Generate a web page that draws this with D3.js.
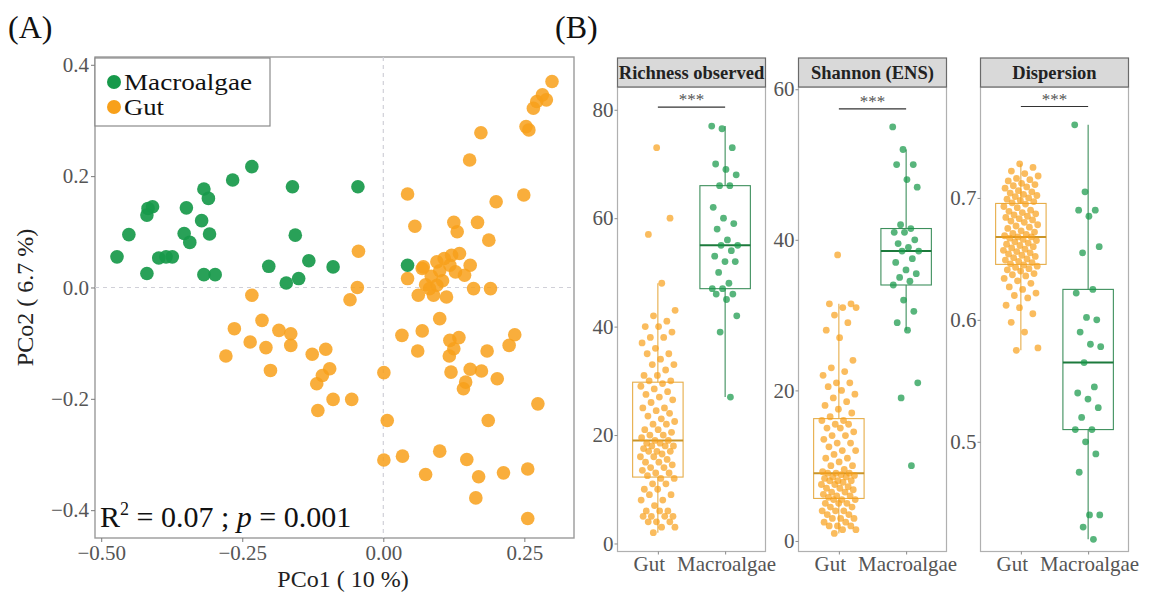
<!DOCTYPE html>
<html><head><meta charset="utf-8">
<script src="https://cdn.jsdelivr.net/npm/d3@7"></script>
<style>
html,body{margin:0;padding:0;background:#fff;}
text{font-family:"Liberation Serif","Times New Roman",serif;}
</style></head>
<body>
<svg id="chart" width="1157" height="597"></svg>
<script>
// ---------------- DATA ----------------
const groups = ["Macroalgae", "Gut"];
const boxCategories = ["Gut", "Macroalgae"];
const facetTitles = ["Richness observed", "Shannon (ENS)", "Dispersion"];

const pcoaXTicks = [-0.50, -0.25, 0.00, 0.25];
const pcoaYTicks = [-0.4, -0.2, 0.0, 0.2, 0.4];

const macroPC1 = [-0.472,-0.451,-0.419,-0.417,-0.409,-0.419,-0.398,-0.385,-0.374,-0.349,-0.353,-0.343,-0.322,-0.308,-0.318,-0.310,-0.318,-0.298,-0.267,-0.233,-0.203,-0.172,-0.161,-0.156,-0.150,-0.132,-0.089,-0.045,0.043];
const macroPC2 = [0.055,0.095,0.025,0.142,0.145,0.130,0.053,0.055,0.055,0.143,0.097,0.081,0.120,0.096,0.177,0.160,0.023,0.023,0.193,0.217,0.038,0.008,0.181,0.094,0.016,0.048,0.037,0.181,0.040];

const gutPC1 = [0.299,0.282,0.272,0.266,0.289,0.253,0.258,0.173,0.153,0.043,0.249,0.200,0.056,0.125,0.131,0.167,0.187,-0.044,0.069,0.095,0.108,0.135,0.118,0.154,0.043,0.128,0.144,-0.046,0.160,0.190,0.082,0.095,-0.233,-0.059,
  0.062,0.089,0.112,-0.264,-0.215,-0.185,-0.164,-0.236,-0.208,-0.164,-0.279,-0.200,-0.126,-0.102,-0.095,-0.108,-0.118,-0.116,-0.089,-0.056,0.001,0.007,0.001,0.034,0.075,0.100,0.148,0.169,0.164,0.213,0.256,0.256,0.274,0.186,
  0.033,0.069,0.100,0.061,0.118,0.134,0.125,0.117,0.120,0.154,0.174,0.146,0.142,0.202,0.184,0.223,0.233,0.100,0.085,0.075,0.105,0.121,0.071];
const gutPC2 = [0.370,0.346,0.334,0.322,0.337,0.289,0.283,0.278,0.229,0.168,0.166,0.154,0.110,0.117,0.100,0.117,0.085,0.065,0.034,0.046,0.052,0.061,0.040,0.040,0.016,0.028,0.022,0.000,-0.002,-0.002,-0.002,0.004,-0.014,-0.022,
  -0.014,-0.014,-0.017,-0.074,-0.059,-0.077,-0.083,-0.098,-0.108,-0.104,-0.123,-0.149,-0.120,-0.111,-0.146,-0.158,-0.173,-0.221,-0.201,-0.201,-0.153,-0.239,-0.310,-0.303,-0.336,-0.294,-0.309,-0.340,-0.378,-0.333,-0.326,-0.415,-0.209,-0.239,
  -0.086,-0.078,-0.056,-0.114,-0.095,-0.090,-0.110,-0.123,-0.152,-0.147,-0.150,-0.170,-0.182,-0.164,-0.114,-0.104,-0.085,0.030,0.020,0.005,0.012,0.058,0.037];

const richnessGut = [2,3,3,4,4,4,5,5,5,5,6,6,6,7,8,8,9,9,10,10,11,11,12,12,
  12.5,13,13,13.5,14,14,14.5,15,15,15.5,16,16,16.5,17,17,17,17.5,18,18,18,18.5,18.5,19,19,
  19.5,20,20,20.5,21,21,22,22,22.5,23,23.5,24,24.5,25,25,26,26.5,27,27.5,28,28.5,29,29.5,
  30,30,31,31,32,33,33,34,35,35,36,37,38,38,39,40,40,41,42,43,48,57,60,73];
const richnessMacro = [27,39,42,45,46,46,47,47,48,50,52,52,53,54,55,55,56,58,59,60,62,66,66,68,69,70,73,76.5,77];

const shannonGut = [1,1.5,1.5,2,2,2,2.5,2.5,3,3,3,3.5,3.5,4,4,4,4.5,4.5,5,5,5,5.5,5.5,5.5,
  5.8,6,6,6.2,6.5,6.5,6.8,7,7,7.2,7.5,7.5,7.8,8,8,8,8.3,8.5,8.5,8.7,8.8,9,9,9,
  9.2,9.5,10,10,10.5,11,11,11.5,12,12,12.5,13,13,13.5,14,14,14.5,15,15,15.5,15.5,16,16,
  16.5,17,17.5,18,18.5,19,19.5,20,20.5,21,21,22,22.5,23,24,27,28,29,30,31,31,31.5,31.5,38];
const shannonMacro = [10,19,21,28,29,30.5,32,34,34.5,35,35.5,36,37,37.5,38.5,38.5,39,39.5,40,41,41,41.5,42,47,48,50,50,52,55];

const dispersionGut = [0.575,0.577,0.59,0.598,0.605,0.61,0.612,0.618,0.62,0.622,0.625,0.627,0.63,0.632,0.634,0.636,0.637,0.638,0.64,0.641,0.642,0.643,0.644,0.645,
  0.646,0.647,0.648,0.649,0.65,0.651,0.652,0.653,0.654,0.655,0.656,0.657,0.658,0.659,0.66,0.661,0.662,0.663,0.664,0.665,0.666,0.667,0.668,0.668,
  0.669,0.67,0.671,0.672,0.673,0.675,0.676,0.677,0.678,0.68,0.681,0.682,0.683,0.684,0.685,0.686,0.687,0.688,0.689,0.69,0.692,0.693,0.695,
  0.696,0.697,0.698,0.699,0.7,0.701,0.702,0.703,0.704,0.705,0.706,0.708,0.709,0.71,0.711,0.712,0.714,0.715,0.716,0.718,0.72,0.722,0.725,0.728];
const dispersionMacro = [0.42,0.43,0.44,0.44,0.475,0.49,0.5,0.51,0.51,0.52,0.528,0.535,0.54,0.545,0.565,0.578,0.58,0.59,0.6,0.602,0.622,0.625,0.655,0.66,0.685,0.69,0.69,0.705,0.76];

const richnessTicks = [0, 20, 40, 60, 80];
const shannonTicks = [0, 20, 40, 60];
const dispersionTicks = [0.5, 0.6, 0.7];
const richnessDomain = [-1.48, 84.2];
const shannonDomain = [-1.4, 60.3];
const dispersionDomain = [0.41, 0.791];
const sigLabel = "***";
const sigY = [80.5, 57.4, 0.775];

// ---------------- STYLE ----------------
const GREEN = "#17994a", ORANGE = "#f8a01a";
const svg = d3.select("#chart");
const serif = '"Liberation Serif","Times New Roman",serif';

// ---------------- PANEL A ----------------
const A = {l: 95, r: 574, t: 57, b: 538};
const x = d3.scaleLinear().domain([-0.511, 0.338]).range([A.l, A.r]);
const y = d3.scaleLinear().domain([-0.450, 0.414]).range([A.b, A.t]);

svg.append("text").attr("x", 8).attr("y", 38).attr("font-size", 32).attr("fill", "#111").text("(A)");

svg.append("rect").attr("x", A.l).attr("y", A.t).attr("width", A.r - A.l).attr("height", A.b - A.t)
  .attr("fill", "#fff").attr("stroke", "#9a9a9a").attr("stroke-width", 1.4);

svg.append("line").attr("x1", x(0)).attr("x2", x(0)).attr("y1", A.t).attr("y2", A.b)
  .attr("stroke", "#d0d0d8").attr("stroke-dasharray", "4,4").attr("stroke-width", 1.2);
svg.append("line").attr("y1", y(0)).attr("y2", y(0)).attr("x1", A.l).attr("x2", A.r)
  .attr("stroke", "#d0d0d8").attr("stroke-dasharray", "4,4").attr("stroke-width", 1.2);

const fmtMinus = s => s.replace("-", "\u2212");
const xAxis = svg.append("g").attr("transform", `translate(0,${A.b})`)
  .call(d3.axisBottom(x).tickValues(pcoaXTicks).tickSize(4).tickPadding(3).tickFormat(d => fmtMinus(d3.format(".2f")(d))));
const yAxis = svg.append("g").attr("transform", `translate(${A.l},0)`)
  .call(d3.axisLeft(y).tickValues(pcoaYTicks).tickSize(4).tickPadding(2).tickFormat(d => fmtMinus(d3.format(".1f")(d))));
[xAxis, yAxis].forEach(g => {
  g.select(".domain").remove();
  g.selectAll(".tick line").attr("stroke", "#7a7a7a");
  g.selectAll(".tick text").attr("font-family", serif).attr("font-size", 21).attr("fill", "#555");
});

svg.append("text").attr("x", 343).attr("y", 587).attr("text-anchor", "middle")
  .attr("font-size", 24).attr("fill", "#222").text("PCo1 ( 10 %)");
svg.append("text").attr("transform", `translate(33,${(A.t + A.b) / 2}) rotate(-90)`).attr("text-anchor", "middle")
  .attr("font-size", 24).attr("fill", "#222").text("PCo2 ( 6.7 %)");

const pts = svg.append("g");
pts.selectAll("circle.g").data(d3.range(gutPC1.length)).join("circle")
  .attr("cx", i => x(gutPC1[i])).attr("cy", i => y(gutPC2[i])).attr("r", 6.8)
  .attr("fill", ORANGE).attr("fill-opacity", 0.85);
pts.selectAll("circle.m").data(d3.range(macroPC1.length)).join("circle")
  .attr("cx", i => x(macroPC1[i])).attr("cy", i => y(macroPC2[i])).attr("r", 6.8)
  .attr("fill", GREEN).attr("fill-opacity", 0.92);

// legend
const leg = svg.append("g");
leg.append("rect").attr("x", A.l).attr("y", A.t + 1).attr("width", 175).attr("height", 68)
  .attr("fill", "#fff").attr("stroke", "#8a8a8a").attr("stroke-width", 1.2);
groups.forEach((g, i) => {
  leg.append("circle").attr("cx", 114).attr("cy", 82 + i * 25).attr("r", 7).attr("fill", g === "Gut" ? ORANGE : GREEN);
  leg.append("text").attr("x", 124).attr("y", 90 + i * 25).attr("font-size", 23).attr("fill", "#111")
    .attr("textLength", g === "Gut" ? 40 : 128).attr("lengthAdjust", "spacingAndGlyphs").text(g);
});

// R2 annotation
const r2 = svg.append("text").attr("x", 100).attr("y", 527).attr("font-size", 30).attr("fill", "#111");
r2.append("tspan").text("R");
r2.append("tspan").attr("font-size", 18).attr("dy", -12).text("2");
r2.append("tspan").attr("dy", 12).text(" = 0.07 ; ");
r2.append("tspan").attr("font-style", "italic").text("p");
r2.append("tspan").text(" = 0.001");

// ---------------- PANEL B ----------------
svg.append("text").attr("x", 555).attr("y", 38).attr("font-size", 32).attr("fill", "#111").text("(B)");

const facets = [
  {title: facetTitles[0], gut: richnessGut, macro: richnessMacro, domain: richnessDomain, ticks: richnessTicks, fmt: d3.format("d"), sig: sigY[0]},
  {title: facetTitles[1], gut: shannonGut, macro: shannonMacro, domain: shannonDomain, ticks: shannonTicks, fmt: d3.format("d"), sig: sigY[1]},
  {title: facetTitles[2], gut: dispersionGut, macro: dispersionMacro, domain: dispersionDomain, ticks: dispersionTicks, fmt: d3.format(".1f"), sig: sigY[2]}
];
const facetLefts = [617.5, 798.5, 980.5];
const FW = 148, PT = 87, PB = 551.5, ST = 58;

function boxStats(vals) {
  const s = vals.slice().sort(d3.ascending);
  const q1 = d3.quantile(s, 0.25), med = d3.quantile(s, 0.5), q3 = d3.quantile(s, 0.75);
  const iqr = q3 - q1;
  const lo = d3.min(s.filter(v => v >= q1 - 1.5 * iqr));
  const hi = d3.max(s.filter(v => v <= q3 + 1.5 * iqr));
  return {q1, med, q3, lo, hi};
}
const jit = i => (((i * 0.6180339887 + 0.37) % 1) - 0.5) * 2;

facets.forEach((f, k) => {
  const L = facetLefts[k];
  const g = svg.append("g");
  const xc = d3.scalePoint().domain(boxCategories).range([L, L + FW]).padding(0.6);
  const unit = xc.step();
  const yy = d3.scaleLinear().domain(f.domain).range([PB, PT]);

  g.append("rect").attr("x", L).attr("y", PT).attr("width", FW).attr("height", PB - PT)
    .attr("fill", "#fff").attr("stroke", "#b0b0b0").attr("stroke-width", 1.2);
  g.append("rect").attr("x", L).attr("y", ST).attr("width", FW).attr("height", PT - ST)
    .attr("fill", "#d9d9d9").attr("stroke", "#6a6a6a").attr("stroke-width", 1.2);
  g.append("text").attr("x", L + FW / 2).attr("y", ST + 21).attr("text-anchor", "middle")
    .attr("font-size", 18.5).attr("font-weight", "bold").attr("fill", "#222").text(f.title);

  const ya = g.append("g").attr("transform", `translate(${L},0)`)
    .call(d3.axisLeft(yy).tickValues(f.ticks).tickSize(3).tickPadding(1).tickFormat(f.fmt));
  const xa = g.append("g").attr("transform", `translate(0,${PB})`)
    .call(d3.axisBottom(xc).tickSize(3).tickPadding(2));
  [ya, xa].forEach(a => {
    a.select(".domain").remove();
    a.selectAll(".tick line").attr("stroke", "#8a8a8a");
    a.selectAll(".tick text").attr("font-family", serif).attr("font-size", 21).attr("fill", "#555");
  });
  xa.selectAll(".tick text").attr("dx", d => d === "Gut" ? -9 : 1);

  [["Gut", f.gut, ORANGE, "#e6ad48", "#c9952a"], ["Macroalgae", f.macro, GREEN, "#3d8f5c", "#1c7a3c"]].forEach(([cat, vals, col, boxCol, medCol]) => {
    const st = boxStats(vals);
    const cx = xc(cat), bw = unit * 0.75;
    g.append("line").attr("x1", cx).attr("x2", cx).attr("y1", yy(st.hi)).attr("y2", yy(st.q3)).attr("stroke", boxCol).attr("stroke-width", 1.1);
    g.append("line").attr("x1", cx).attr("x2", cx).attr("y1", yy(st.q1)).attr("y2", yy(st.lo)).attr("stroke", boxCol).attr("stroke-width", 1.1);
    g.append("rect").attr("x", cx - bw / 2).attr("width", bw).attr("y", yy(st.q3)).attr("height", yy(st.q1) - yy(st.q3))
      .attr("fill", "none").attr("stroke", boxCol).attr("stroke-width", 1.1);
    g.append("line").attr("x1", cx - bw / 2).attr("x2", cx + bw / 2).attr("y1", yy(st.med)).attr("y2", yy(st.med))
      .attr("stroke", medCol).attr("stroke-width", 2);
    g.selectAll(null).data(vals).join("circle")
      .attr("cx", (d, i) => cx + jit(i + (cat === "Gut" ? 0 : 7)) * unit * (cat === "Gut" ? 0.26 : 0.2))
      .attr("cy", d => yy(d)).attr("r", 3.4)
      .attr("fill", col).attr("fill-opacity", cat === "Gut" ? 0.7 : 0.72);
  });

  // significance bracket
  const sy = yy(f.sig);
  g.append("line").attr("x1", xc("Gut")).attr("x2", xc("Macroalgae")).attr("y1", sy).attr("y2", sy)
    .attr("stroke", "#333").attr("stroke-width", 1.2);
  g.append("text").attr("x", (xc("Gut") + xc("Macroalgae")) / 2).attr("y", sy - 2).attr("text-anchor", "middle")
    .attr("font-size", 17).attr("fill", "#555").text(sigLabel);
});
</script>
</body></html>
